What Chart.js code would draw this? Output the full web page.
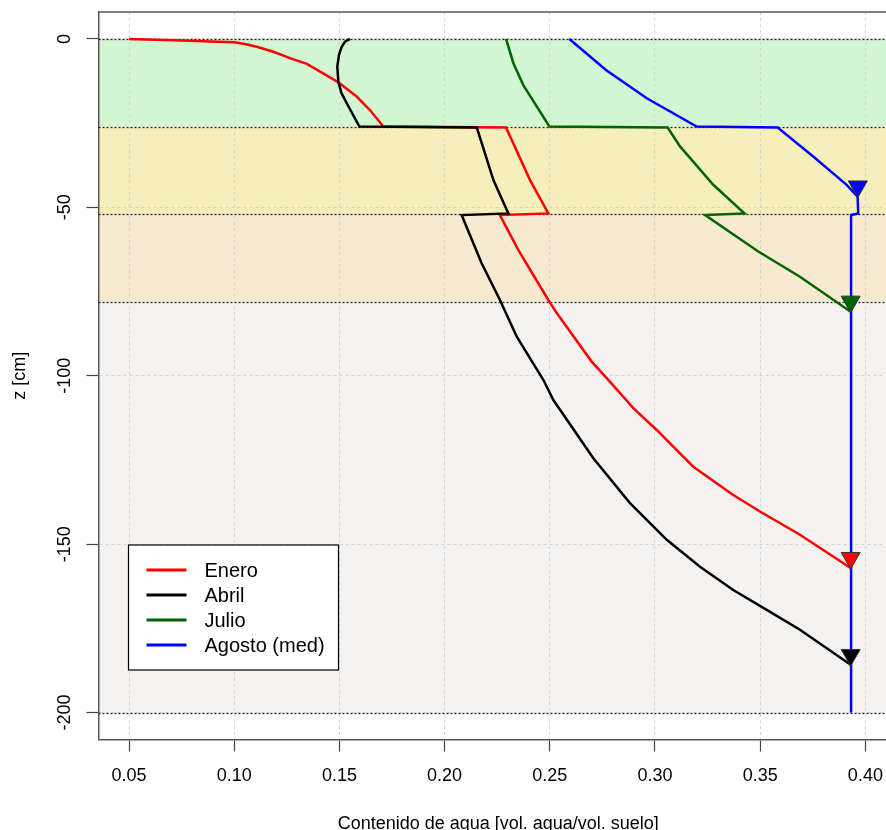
<!DOCTYPE html>
<html>
<head>
<meta charset="utf-8">
<title>Perfil de humedad</title>
<script src="https://cdn.jsdelivr.net/npm/chart.js@4.4.1/dist/chart.umd.min.js"></script>
<style>
  html, body { margin: 0; padding: 0; background: #fff; overflow: hidden; }
  #perfil { display: block; }
</style>
</head>
<body>
<canvas id="perfil" width="900" height="830"></canvas>
<script>
// perfiles de contenido de agua (theta) por profundidad z [cm]
const eneroTheta = [0.050, 0.079, 0.092, 0.100, 0.105, 0.1107, 0.1186, 0.1265, 0.1345, 0.1423, 0.1498, 0.1582, 0.1645, 0.1709,
                    0.2292, 0.2406, 0.2493, 0.2263, 0.2350, 0.2493, 0.2533, 0.2699, 0.2778, 0.2897,
                    0.3008, 0.3182, 0.3372, 0.3499, 0.3689, 0.3930];
const eneroZ = [0, -0.5, -0.8, -1.0, -1.5, -2.3, -3.8, -5.7, -7.4, -10.2, -13.0, -17.1, -21.1, -26.0,
                -26.3, -41.9, -51.8, -52.3, -62.6, -77.5, -81.4, -95.8, -101.2, -109.6,
                -116.1, -127.0, -135.4, -140.3, -147.2, -157.1];

const abrilTheta = [0.155, 0.1527, 0.1511, 0.1498, 0.1490, 0.1495, 0.1510, 0.1535, 0.1595, 0.2153, 0.2232, 0.2303, 0.2081,
                    0.2176, 0.2263, 0.2343, 0.2469, 0.2517, 0.2707, 0.2881, 0.3056, 0.3214, 0.3372,
                    0.3531, 0.3689, 0.3930];
const abrilZ = [0, -0.8, -2.3, -4.7, -8.2, -12.7, -16.1, -19.1, -26.0, -26.3, -41.9, -51.8, -52.3,
                -66.6, -77.5, -88.4, -101.2, -107.2, -124.5, -137.8, -148.7, -156.7, -163.6,
                -169.5, -175.4, -185.8];

const julioTheta = [0.2292, 0.2327, 0.2374, 0.2498, 0.3060, 0.3119, 0.3277, 0.3425, 0.3238, 0.3491, 0.3689, 0.3930];
const julioZ = [0, -7.2, -13.7, -26.0, -26.3, -31.9, -43.3, -51.8, -52.3, -63.1, -70.6, -81.0];

const agostoTheta = [0.2593, 0.2767, 0.2961, 0.3198, 0.3583, 0.3752, 0.3911, 0.3963, 0.3966, 0.3932, 0.3932];
const agostoZ = [0, -9.2, -17.6, -26.0, -26.3, -34.9, -43.3, -46.8, -51.8, -52.3, -200];

// nivel freatico de cada mes (triangulos)
const freaticoTheta = [0.3930, 0.3930, 0.3930, 0.3964];
const freaticoZ = [-154.1, -182.9, -78.0, -43.8];

const meses = ['Enero', 'Abril', 'Julio', 'Agosto (med)'];
const colores = ['#ff0000', '#000000', '#006400', '#0000ff'];

// limites de los horizontes del suelo
const capasZ = [0, -26, -52, -78, -200];
const capasColor = ['#d2f5d2', '#f5f0bb', '#f8ead0', '#f3f2f0'];

const thetaTicks = [0.05, 0.10, 0.15, 0.20, 0.25, 0.30, 0.35, 0.40];
const zTicks = [0, -50, -100, -150, -200];

const FONT = '"Liberation Sans", Arial, Helvetica, sans-serif';
Chart.defaults.font.family = FONT;

function puntos(xs, ys) {
  return xs.map((x, i) => ({ x: x, y: ys[i] }));
}

const series = [
  [eneroTheta, eneroZ],
  [abrilTheta, abrilZ],
  [julioTheta, julioZ],
  [agostoTheta, agostoZ]
];

const datasets = series.map((s, i) => ({
  label: meses[i],
  data: puntos(s[0], s[1]),
  showLine: true,
  borderColor: colores[i],
  borderWidth: 2.5,
  pointRadius: 0,
  pointHoverRadius: 0,
  tension: 0,
  order: 4 - i
}));

datasets.push({
  label: 'nivel freático',
  data: puntos(freaticoTheta, freaticoZ),
  showLine: false,
  pointStyle: 'triangle',
  rotation: 180,
  pointRadius: 11,
  pointBackgroundColor: colores,
  pointBorderColor: '#333',
  pointBorderWidth: 1,
  order: 0
});

// fondo por horizontes, lineas de capas, marco, etiquetas del eje z y leyenda
const horizontes = {
  id: 'horizontes',
  beforeDraw(chart) {
    const { ctx, chartArea, scales } = chart;
    ctx.save();
    for (let i = 0; i < capasColor.length; i++) {
      const y0 = scales.y.getPixelForValue(capasZ[i]);
      const y1 = scales.y.getPixelForValue(capasZ[i + 1]);
      ctx.fillStyle = capasColor[i];
      ctx.fillRect(chartArea.left, y0, chartArea.right - chartArea.left, y1 - y0);
    }
    ctx.restore();
  },
  beforeDatasetsDraw(chart) {
    const { ctx, chartArea, scales } = chart;
    ctx.save();
    ctx.strokeStyle = '#222';
    ctx.lineWidth = 1.3;
    ctx.setLineDash([2, 2]);
    capasZ.forEach(z => {
      const y = Math.round(scales.y.getPixelForValue(z)) + 0.5;
      ctx.beginPath();
      ctx.moveTo(chartArea.left, y);
      ctx.lineTo(chartArea.right, y);
      ctx.stroke();
    });
    ctx.restore();
  },
  afterDraw(chart) {
    const { ctx, chartArea, scales } = chart;
    ctx.save();
    // marco superior y derecho
    ctx.strokeStyle = '#555';
    ctx.lineWidth = 1.5;
    ctx.beginPath();
    ctx.moveTo(chartArea.left, chartArea.top);
    ctx.lineTo(chartArea.right, chartArea.top);
    ctx.lineTo(chartArea.right, chartArea.bottom);
    ctx.stroke();

    // etiquetas del eje z, giradas
    ctx.fillStyle = '#000';
    ctx.font = '18px ' + FONT;
    ctx.textAlign = 'center';
    ctx.textBaseline = 'middle';
    scales.y.ticks.forEach(t => {
      const y = scales.y.getPixelForValue(t.value);
      ctx.save();
      ctx.translate(65, y);
      ctx.rotate(-Math.PI / 2);
      ctx.fillText(String(t.value), 0, 0);
      ctx.restore();
    });

    // leyenda
    const box = { left: 128.5, top: 545, width: 210, height: 125 };
    ctx.fillStyle = '#fff';
    ctx.fillRect(box.left, box.top, box.width, box.height);
    ctx.strokeStyle = '#000';
    ctx.lineWidth = 1.2;
    ctx.strokeRect(box.left, box.top, box.width, box.height);
    ctx.font = '20px ' + FONT;
    ctx.textAlign = 'left';
    ctx.lineWidth = 3;
    meses.forEach((m, i) => {
      const y = box.top + 25 + i * 25;
      ctx.strokeStyle = colores[i];
      ctx.beginPath();
      ctx.moveTo(box.left + 18, y);
      ctx.lineTo(box.left + 58, y);
      ctx.stroke();
      ctx.fillStyle = '#000';
      ctx.fillText(m, box.left + 76, y + 1);
    });
    ctx.restore();
  }
};

const ctx = document.getElementById('perfil').getContext('2d');
const chart = new Chart(ctx, {
  type: 'scatter',
  data: { datasets: datasets },
  plugins: [horizontes],
  options: {
    responsive: false,
    animation: false,
    devicePixelRatio: 1,
    events: [],
    layout: { autoPadding: false, padding: { top: 12, right: 2, left: 0, bottom: 0 } },
    plugins: {
      legend: { display: false },
      tooltip: { enabled: false }
    },
    scales: {
      x: {
        type: 'linear',
        min: 0.0355,
        max: 0.4155,
        afterBuildTicks: scale => { scale.ticks = thetaTicks.map(v => ({ value: v })); },
        afterFit: scale => {
          scale.height = 90.5;
          scale.paddingLeft = 0;
          scale.paddingRight = 0;
        },
        grid: { color: '#d4d4d4', lineWidth: 1, tickLength: 12, tickColor: '#444', tickWidth: 1.2, tickBorderDash: [] },
        border: { color: '#555', width: 1.5, dash: [3, 3] },
        ticks: {
          color: '#000',
          font: { size: 18 },
          padding: 14,
          maxRotation: 0,
          autoSkip: false,
          callback: v => v.toFixed(2)
        },
        title: {
          display: true,
          text: 'Contenido de agua [vol. agua/vol. suelo]',
          color: '#000',
          font: { size: 18 },
          padding: { top: 0, bottom: -5 }
        }
      },
      y: {
        type: 'linear',
        min: -208,
        max: 8,
        afterBuildTicks: scale => { scale.ticks = zTicks.map(v => ({ value: v })); },
        afterFit: scale => { scale.width = 98.5; },
        grid: { color: '#d4d4d4', lineWidth: 1, tickLength: 12, tickColor: '#444', tickWidth: 1.2, tickBorderDash: [] },
        border: { color: '#555', width: 1.5, dash: [3, 3] },
        ticks: { display: false },
        title: {
          display: true,
          text: 'z [cm]',
          color: '#000',
          font: { size: 18 },
          padding: { top: 9, bottom: 0 }
        }
      }
    }
  }
});
</script>
</body>
</html>
